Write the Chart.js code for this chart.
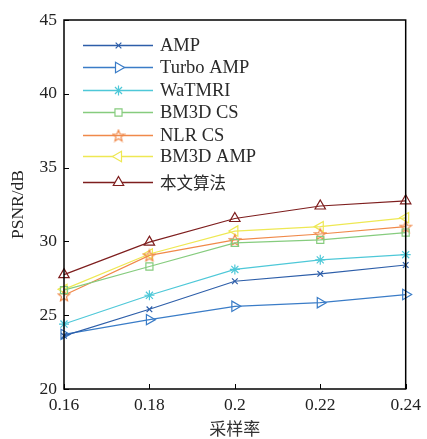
<!DOCTYPE html>
<html><head><meta charset="utf-8">
<script src="https://cdn.jsdelivr.net/npm/chart.js@4"></script>
<style>html,body{margin:0;padding:0;background:#fff;}#wrap{width:427px;height:439px;position:relative;}</style>
</head><body><div id="wrap"><canvas id="c" width="427" height="439"></canvas></div>
<script>
const categories = ['0.16','0.18','0.2','0.22','0.24'];
const yTicks = [20,25,30,35,40,45];
const seriesNames = ['AMP','Turbo AMP','WaTMRI','BM3D CS','NLR CS','BM3D AMP','本文算法'];
const ampVals      = [23.6, 25.4, 27.3, 27.8, 28.4];
const turboAmpVals = [23.7, 24.7, 25.6, 25.85, 26.4];
const watmriVals   = [24.4, 26.35, 28.1, 28.75, 29.1];
const bm3dCsVals   = [26.7, 28.3, 29.9, 30.1, 30.6];
const nlrCsVals    = [26.35, 29.05, 30.1, 30.5, 31.0];
const bm3dAmpVals  = [26.75, 29.15, 30.7, 31.0, 31.6];
const oursVals     = [27.75, 29.95, 31.55, 32.4, 32.75];

const colors = ['#2d5ea9','#3a7cc7','#4ec8d8','#86cc7e','#f0894a','#eee853','#7e1e1e'];

function pentagram(color){
  const s=14, cv=document.createElement('canvas'); cv.width=s; cv.height=s;
  const g=cv.getContext('2d'); g.strokeStyle=color; g.lineWidth=1.2;
  const cx=s/2, cy=s/2+0.6, R=6, r=2.6;
  g.beginPath();
  for(let i=0;i<10;i++){const rad=(i%2?r:R); const a=-Math.PI/2+i*Math.PI/5;
    const px=cx+rad*Math.cos(a), py=cy+rad*Math.sin(a); i?g.lineTo(px,py):g.moveTo(px,py);}
  g.closePath(); g.stroke(); return cv;
}
const styles = [
  {ps:'crossRot', r:4, rot:0},
  {ps:'triangle', r:6, rot:90},
  {ps:'star', r:5, rot:0},
  {ps:'rect', r:5, rot:0},
  {ps:pentagram(colors[4]), r:6, rot:0},
  {ps:'triangle', r:6, rot:-90},
  {ps:'triangle', r:6, rot:0}
];
const allVals=[ampVals,turboAmpVals,watmriVals,bm3dCsVals,nlrCsVals,bm3dAmpVals,oursVals];

const datasets = allVals.map((v,i)=>({
  label: seriesNames[i], data: v, borderColor: colors[i], backgroundColor: 'rgba(0,0,0,0)',
  borderWidth: 1.2, pointStyle: styles[i].ps, pointRadius: styles[i].r, pointRotation: styles[i].rot,
  pointBorderColor: colors[i], pointBackgroundColor:'rgba(0,0,0,0)', pointBorderWidth: 1.2,
  tension: 0, fill:false
}));

const FONT = '"Liberation Serif", "Times New Roman", serif';
const CJK = '"Noto Sans CJK SC", serif';

const inwardTicks = {
  id:'inwardTicks',
  afterDraw(chart){
    const ctx=chart.ctx, a=chart.chartArea, xs=chart.scales.x, ys=chart.scales.y;
    ctx.save(); ctx.strokeStyle='#000'; ctx.lineWidth=1;
    for(let i=0;i<categories.length;i++){
      const px=Math.round(xs.getPixelForValue(i))+0.5;
      ctx.beginPath(); ctx.moveTo(px,a.bottom); ctx.lineTo(px,a.bottom-5); ctx.stroke();
    }
    yTicks.forEach(t=>{
      const py=Math.round(ys.getPixelForValue(t))+0.5;
      ctx.beginPath(); ctx.moveTo(a.left,py); ctx.lineTo(a.left+5,py); ctx.stroke();
    });
    ctx.lineWidth=1.5;
    ctx.strokeRect(a.left, a.top, a.right-a.left, a.bottom-a.top);
    ctx.restore();
  }
};

const customLegend = {
  id:'customLegend',
  afterDraw(chart){
    const ctx=chart.ctx;
    const rows=[45,67,90,112,135,156,182];
    ctx.save();
    chart.data.datasets.forEach((ds,i)=>{
      const y=rows[i];
      ctx.strokeStyle=ds.borderColor; ctx.lineWidth=1.4;
      ctx.beginPath(); ctx.moveTo(83,y+0.5); ctx.lineTo(153,y+0.5); ctx.stroke();
      ctx.strokeStyle=ds.borderColor; ctx.fillStyle='#fff'; ctx.lineWidth=1.2;
      Chart.helpers.drawPoint(ctx,{pointStyle:ds.pointStyle, radius:ds.pointRadius, rotation:ds.pointRotation, borderWidth:1.2}, 118.5, y+0.5);
      ctx.fillStyle='#2a2a2a'; ctx.textBaseline='middle'; ctx.textAlign='left';
      ctx.font = i===6 ? '16.5px '+CJK : '18.5px '+FONT;
      ctx.fillText(ds.label, 160, y+1);
    });
    ctx.restore();
  }
};

new Chart(document.getElementById('c'), {
  type:'line',
  data:{labels:categories, datasets},
  options:{
    responsive:false, animation:false,
    layout:{padding:{top:20,right:16,left:0,bottom:0}},
    plugins:{legend:{display:false}, tooltip:{enabled:false}},
    scales:{
      x:{ type:'category', offset:false,
        grid:{display:false, drawTicks:false}, border:{display:false},
        ticks:{color:'#222', font:{family:FONT,size:17.5}, padding:6, maxRotation:0, autoSkip:false},
        title:{display:true, text:'采样率', color:'#333', font:{family:CJK, size:17}, padding:{top:0,bottom:0}},
        afterFit(s){ s.height=50; }
      },
      y:{ min:20, max:45,
        afterBuildTicks(s){ s.ticks=yTicks.map(v=>({value:v})); },
        grid:{display:false, drawTicks:false}, border:{display:false},
        ticks:{color:'#222', font:{family:FONT,size:17.5}, padding:7},
        title:{display:true, text:'PSNR/dB', color:'#222', font:{family:FONT,size:17.5}, padding:{top:8,bottom:0}},
        afterFit(s){ s.width=64; }
      }
    }
  },
  plugins:[inwardTicks, customLegend]
});
</script></body></html>
